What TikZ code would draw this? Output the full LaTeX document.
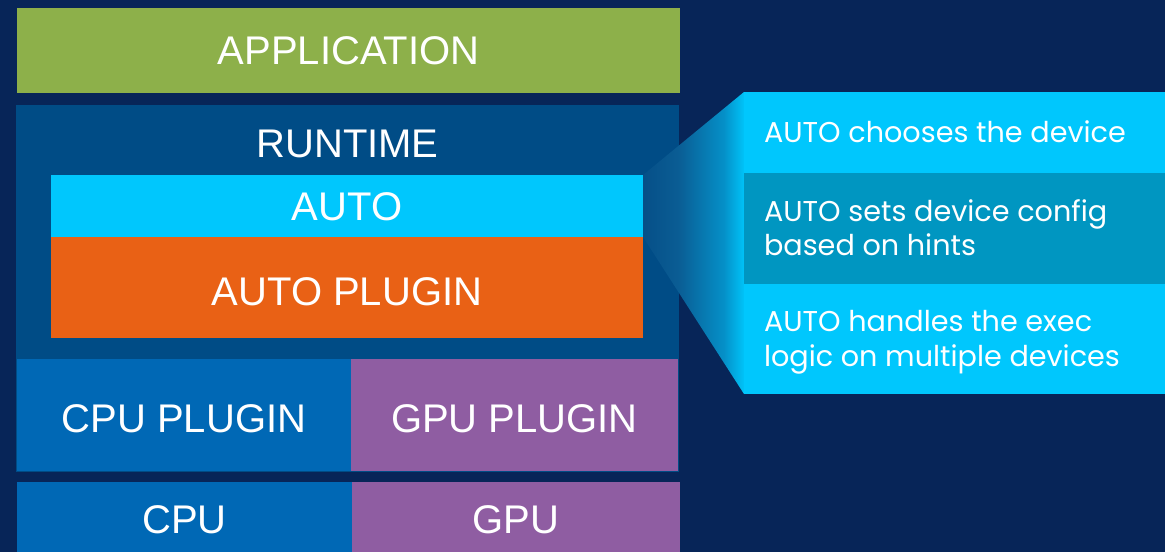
\documentclass[tikz,border=0pt]{standalone}
\usepackage{fontspec}
\setmainfont{Liberation Sans}
\newfontfamily\rfont{Poppins}
\definecolor{cbg}{HTML}{072558}
\definecolor{cgreen}{HTML}{8DB04A}
\definecolor{cruntime}{HTML}{004C86}
\definecolor{ccyan}{HTML}{00C7FD}
\definecolor{corange}{HTML}{E96115}
\definecolor{ccpu}{HTML}{0068B5}
\definecolor{cgpu}{HTML}{8F5DA2}
\definecolor{cband}{HTML}{0096C1}
\definecolor{fA}{HTML}{064F88}
\definecolor{fB}{HTML}{0A5D94}
\definecolor{fC}{HTML}{0590C8}
\definecolor{fD}{HTML}{00C3F8}
\pgfdeclarehorizontalshading{funnelshade}{100bp}{color(0bp)=(fA); color(25bp)=(fA); color(42.5bp)=(fB); color(65bp)=(fC); color(75bp)=(fD); color(100bp)=(fD)}
\pgfdeclarelayer{background}
\pgfdeclarelayer{mid}
\pgfsetlayers{background,mid,main}
\tikzset{
  blk/.style={inner sep=0pt, outer sep=0pt, text=white, font=\fontsize{30}{34}\selectfont, text height=21.5pt, text depth=0pt},
  low/.style={text height=26.5pt},
  rtxt/.style={inner sep=0pt, outer sep=0pt, anchor=base west, text=white, font=\rfont\fontsize{21.5}{24}\selectfont},
}
\newcommand\blk[7]{\node[blk,#6,minimum width={(#4-#2)*0.75pt},minimum height={(#5-#3)*0.75pt}] (#1) at ({(#2+#4)/2},{(#3+#5)/2}) {#7};}
\begin{document}
\begin{tikzpicture}[x=0.75pt,y=-0.75pt]
\useasboundingbox (0,0) rectangle (1165,552);
\begin{pgfonlayer}{background}
\fill[cbg] (0,0) rectangle (1165,552);
\blk{runtime}{16}{105}{679}{472}{fill=cruntime}{}
\node[blk] (rtlabel) at (347.5,143) {RUNTIME};
\end{pgfonlayer}
\blk{app}{17}{8}{680}{93}{fill=cgreen}{APPLICATION}
\blk{auto}{51}{175}{643}{237}{fill=ccyan}{AUTO}
\blk{autoplugin}{51}{237}{643}{338}{fill=corange,low}{AUTO PLUGIN}
\blk{cpuplugin}{17}{359}{351}{471}{fill=ccpu,low}{CPU PLUGIN}
\blk{gpuplugin}{351}{359}{678}{471}{fill=cgpu,low}{GPU PLUGIN}
\blk{cpu}{17}{482}{352}{556}{fill=ccpu}{CPU}
\blk{gpu}{352}{482}{680}{556}{fill=cgpu}{GPU}
\blk{p1}{744}{92}{1165}{173}{fill=ccyan}{}
\blk{p2}{744}{173}{1165}{284}{fill=cband}{}
\blk{p3}{744}{284}{1165}{394}{fill=ccyan}{}
\node[rtxt] (l1) at (764,143) {AUTO chooses the device};
\node[rtxt] (l2a) at (764,222) {AUTO sets device config};
\node[rtxt] (l2b) at (764,256) {based on hints};
\node[rtxt] (l3a) at (764,332) {AUTO handles the exec};
\node[rtxt] (l3b) at (764,367) {logic on multiple devices};
\begin{pgfonlayer}{mid}
\shade[shading=funnelshade] (auto.north east) -- (p1.north west) -- (p3.south west) -- (auto.south east) -- cycle;
\end{pgfonlayer}
\end{tikzpicture}
\end{document}
